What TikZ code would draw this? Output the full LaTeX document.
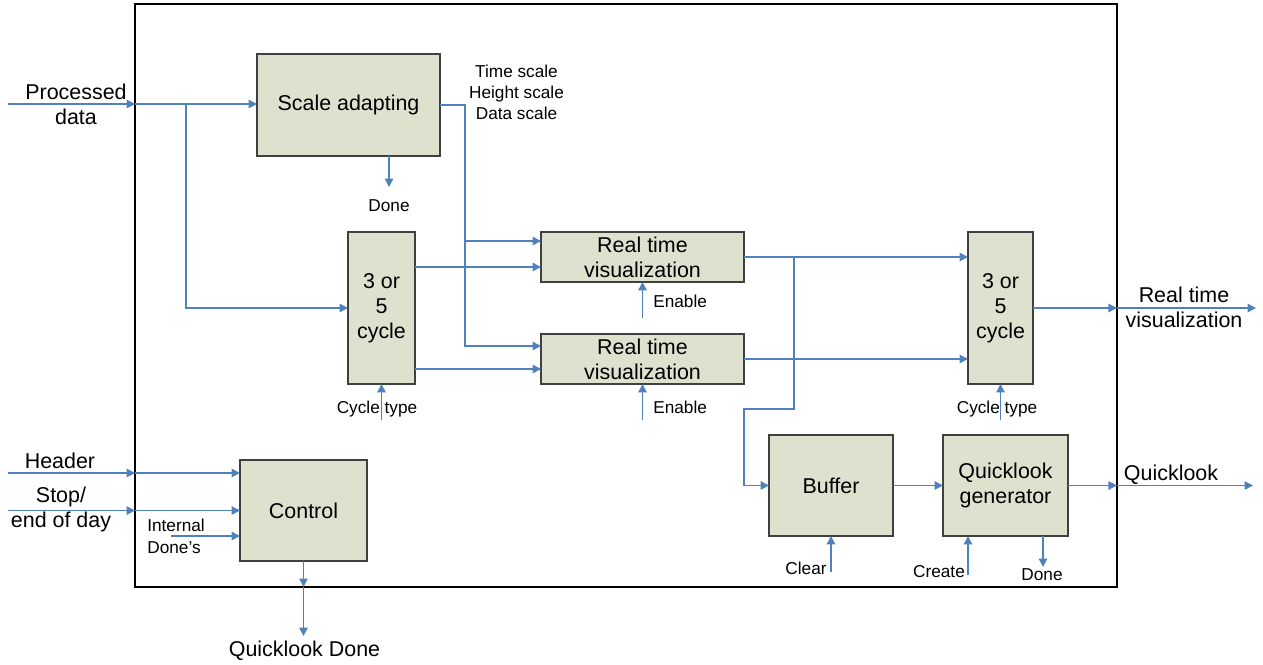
\documentclass[tikz,border=0pt]{standalone}
\usepackage{fontspec}
\setmainfont{Liberation Sans}
\usetikzlibrary{arrows.meta,calc}
\definecolor{boxfill}{RGB}{222,225,206}
\definecolor{boxborder}{RGB}{64,64,64}
\definecolor{arrblue}{RGB}{79,129,189}
\tikzset{
  big/.style={font=\fontsize{12.2}{14.3}\selectfont, align=center, inner sep=0pt},
  small/.style={font=\fontsize{9.8}{12}\selectfont, align=center, inner sep=0pt},
  blk/.style={draw=boxborder, fill=boxfill, line width=0.8pt, inner sep=0pt, outer sep=0pt, big},
  frm/.style={draw=black, line width=1.4pt, inner sep=0pt, outer sep=0pt},
  ln/.style={draw=arrblue, line width=0.85pt},
  arr/.style={ln, -{Triangle[length=4.8pt,width=4.8pt]}},
}
\begin{document}
\begin{tikzpicture}[x=0.02cm,y=-0.02cm]
\useasboundingbox (0,0) rectangle (1263,664);
% frame
\node[frm, minimum width=19.64cm, minimum height=11.66cm] (frame) at (626,295.5) {};
% blocks
\node[blk, minimum width=3.66cm, minimum height=2.04cm] (sa) at (348.5,105) {Scale adapting};
\node[blk, minimum width=1.34cm, minimum height=3.04cm] (cl) at (381.5,308) {3 or\\5\\cycle};
\node[blk, minimum width=4.06cm, minimum height=1.0cm] (r1) at (642.5,257) {Real time\\visualization};
\node[blk, minimum width=4.06cm, minimum height=1.0cm] (r2) at (642.5,359) {Real time\\visualization};
\node[blk, minimum width=1.30cm, minimum height=3.04cm] (cr) at (1000.5,308) {3 or\\5\\cycle};
\node[blk, minimum width=2.48cm, minimum height=2.02cm] (bf) at (831,485.5) {Buffer};
\node[blk, minimum width=2.50cm, minimum height=2.02cm] (qg) at (1005.5,485.5) {Quicklook\\generator};
\node[blk, minimum width=2.54cm, minimum height=2.02cm] (ct) at (303.5,510.5) {Control};
% labels
\node[big] (lpd) at (76,104) {Processed\\data};
\node[small] (lsc) at (516.5,92) {Time scale\\Height scale\\Data scale};
\node[small] (ldone1) at (389,206) {Done};
\node[small, anchor=west] (len1) at (653,301) {Enable};
\node[small, anchor=west] (len2) at (653,407) {Enable};
\node[small] (lct1) at (377,409) {Cycle type};
\node[small] (lct2) at (997,409) {Cycle type};
\node[big] (lrtv) at (1184,307) {Real time\\visualization};
\node[big] (lql) at (1171,475) {Quicklook};
\node[small] (lclr) at (806,568) {Clear};
\node[small] (lcre) at (939,572) {Create};
\node[small] (ldone2) at (1042,575) {Done};
\node[big] (lhd) at (60,461) {Header};
\node[big] (lstop) at (61,509.5) {Stop/\\end of day};
\node[small, anchor=west, align=left, font=\fontsize{9.8}{12.5}\selectfont] (lint) at (147,536.5) {Internal\\Done’s};
\node[big] (lqd) at (304.5,651) {Quicklook Done};
% coordinates
\coordinate (pdin) at (8,104);
\coordinate (pdf) at (frame.west |- pdin);
\coordinate (br1) at (186,104);
\coordinate (sv) at (465,346);
\coordinate (sb1) at (465,241);
\coordinate (sadone) at (389,187);
\coordinate (r1a) at ($(r1.west)+(0,10)$);
\coordinate (r2a) at ($(r2.west)+(0,10)$);
\coordinate (en1) at (642.5,318);
\coordinate (en2) at (642.5,420);
\coordinate (ct1) at (381.5,420);
\coordinate (ct2) at (1000.5,420);
\coordinate (bj) at (794,257);
\coordinate (bk1) at (794,409);
\coordinate (bk2) at (744,409);
\coordinate (rtvf) at (frame.east |- cr.east);
\coordinate (rtvout) at (1256,308);
\coordinate (qlf) at (frame.east |- qg.east);
\coordinate (qlout) at (1253,485.5);
\coordinate (clr) at (831,572);
\coordinate (cre) at (968,575);
\coordinate (qgd) at (1043,567);
\coordinate (hin) at (8,473);
\coordinate (hf) at (frame.west |- hin);
\coordinate (sin) at (8,510.5);
\coordinate (sf) at (frame.west |- sin);
\coordinate (intin) at (171,536);
\coordinate (qdf) at (ct.south |- frame.south);
\coordinate (qdout) at (303.5,636);
% connectors
\draw[arr] (pdin) -- (pdf);
\draw[arr] (pdf) -- (pdf -| sa.west);
\draw[arr] (br1) |- (cl.west);
\draw[arr] (sa.east) -| (sv) -- (sv -| r2.west);
\draw[arr] (sb1) -- (sb1 -| r1.west);
\draw[arr] (sadone |- sa.south) -- (sadone);
\draw[arr] (cl.east |- r1a) -- (r1a);
\draw[arr] (cl.east |- r2a) -- (r2a);
\draw[arr] (en1) -- (en1 |- r1.south);
\draw[arr] (en2) -- (en2 |- r2.south);
\draw[arr] (ct1) -- (cl.south);
\draw[arr] (ct2) -- (cr.south);
\draw[arr] (r1.east) -- (r1.east -| cr.west);
\draw[arr] (r2.east) -- (r2.east -| cr.west);
\draw[arr] (bj) -- (bk1) -- (bk2) |- (bf.west);
\draw[arr] (cr.east) -- (rtvf);
\draw[arr] (rtvf) -- (rtvout);
\draw[arr] (bf.east) -- (qg.west);
\draw[arr] (qg.east) -- (qlf);
\draw[arr] (qlf) -- (qlout);
\draw[arr] (clr) -- (clr |- bf.south);
\draw[arr] (cre) -- (cre |- qg.south);
\draw[arr] (qgd |- qg.south) -- (qgd);
\draw[arr] (hin) -- (hf);
\draw[arr] (hf) -- (hf -| ct.west);
\draw[arr] (sin) -- (sf);
\draw[arr] (sf) -- (ct.west);
\draw[arr] (intin) -- (intin -| ct.west);
\draw[arr] (ct.south) -- (qdf);
\draw[arr] (qdf) -- (qdout);
\end{tikzpicture}
\end{document}
